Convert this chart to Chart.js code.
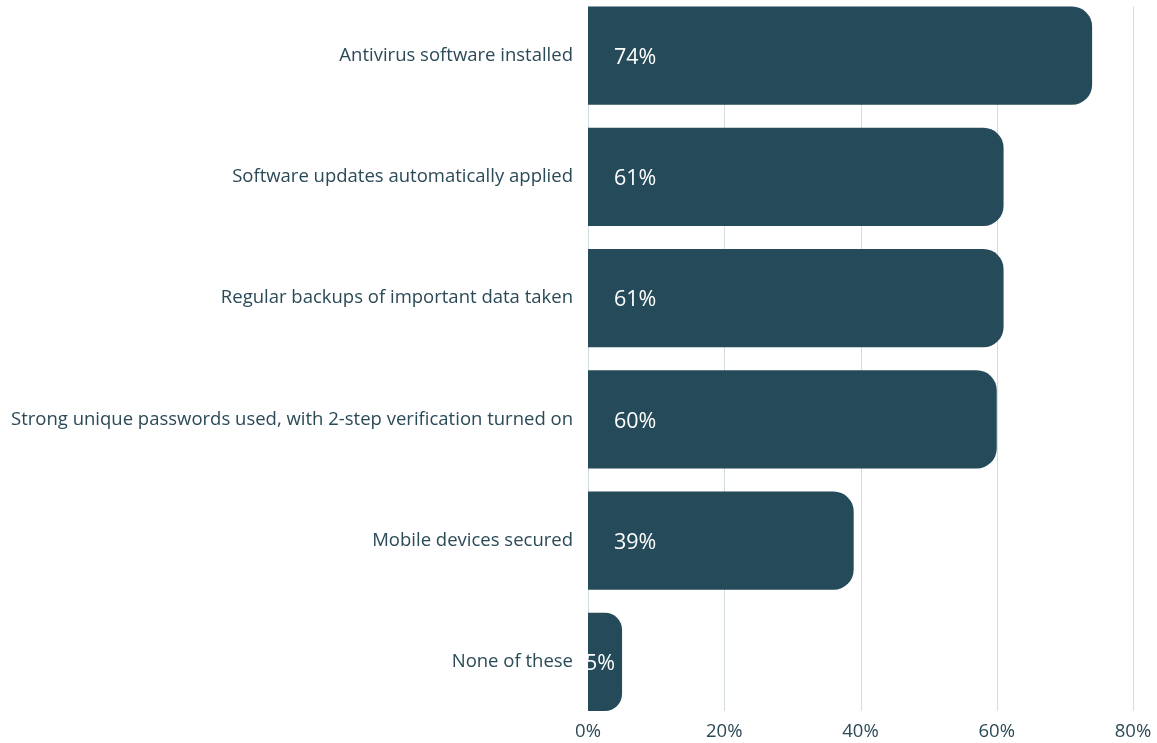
<!DOCTYPE html>
<html><head><meta charset="utf-8">
<script src="https://cdn.jsdelivr.net/npm/chart.js@4/dist/chart.umd.min.js"></script>
<style>html,body{margin:0;padding:0;background:#fff;overflow:hidden;width:1157px;height:743px;position:relative}#wrap{width:1157px;height:746px;position:absolute;left:0;top:-5px}</style>
</head><body><div id="wrap"><canvas id="c"></canvas></div>
<script>
const categories = [
  "Antivirus software installed",
  "Software updates automatically applied",
  "Regular backups of important data taken",
  "Strong unique passwords used, with 2-step verification turned on",
  "Mobile devices secured",
  "None of these"
];
const values = [74, 61, 61, 60, 39, 5];
const xTicks = [0, 20, 40, 60, 80];

const BAR = '#254b5a';
const TEXT = '#2b4a57';
const FONT = "'Open Sans', 'Noto Sans', sans-serif";

const gridPlugin = {
  id: 'gridPlugin',
  beforeDatasetsDraw(chart) {
    const ctx = chart.ctx, xs = chart.scales.x;
    const meta = chart.getDatasetMeta(0);
    const first = meta.data[0], last = meta.data[meta.data.length - 1];
    const top = first.y - first.height / 2, bottom = last.y + last.height / 2;
    ctx.save();
    ctx.strokeStyle = '#d3dce0';
    ctx.lineWidth = 1;
    xTicks.forEach(t => {
      const x = Math.round(xs.getPixelForValue(t)) + 0.5;
      ctx.beginPath(); ctx.moveTo(x, top); ctx.lineTo(x, bottom); ctx.stroke();
    });
    ctx.restore();
  }
};

const labelPlugin = {
  id: 'labelPlugin',
  afterDatasetsDraw(chart) {
    const ctx = chart.ctx;
    const meta = chart.getDatasetMeta(0);
    ctx.save();
    ctx.fillStyle = '#ffffff';
    ctx.font = "21.5px " + FONT;
    ctx.textBaseline = 'middle';
    meta.data.forEach((bar, i) => {
      const txt = values[i] + '%';
      const w = ctx.measureText(txt).width;
      let x = bar.base + 26;
      if (x + w > bar.x - 7) x = bar.x - 7 - w;
      ctx.fillText(txt, x, bar.y + 2);
    });
    ctx.restore();
  }
};

new Chart(document.getElementById('c'), {
  type: 'bar',
  data: {
    labels: categories,
    datasets: [{
      data: values,
      backgroundColor: BAR,
      borderWidth: 0,
      borderSkipped: 'start',
      borderRadius: {topLeft: 0, bottomLeft: 0, topRight: 20, bottomRight: 20},
      categoryPercentage: 1,
      barPercentage: 0.81
    }]
  },
  options: {
    indexAxis: 'y',
    responsive: true,
    maintainAspectRatio: false,
    animation: false,
    layout: {autoPadding: false, padding: {top: 0, right: 24, left: 0, bottom: 0}},
    plugins: {legend: {display: false}, tooltip: {enabled: false}},
    scales: {
      x: {
        min: 0, max: 80,
        grid: {display: false, drawTicks: false},
        border: {display: false},
        afterBuildTicks: s => { s.ticks = xTicks.map(v => ({value: v})); },
        ticks: {
          padding: 0,
          color: TEXT,
          font: {family: FONT, size: 18.5, lineHeight: 1},
          callback: v => v + '%'
        }
      },
      y: {
        grid: {display: false, drawTicks: false},
        border: {display: false},
        afterFit: s => { s.width = 588; s.paddingTop = 0; s.paddingBottom = 0; },
        ticks: {
          padding: 15,
          color: TEXT,
          font: {family: FONT, size: 18.5}
        }
      }
    }
  },
  plugins: [gridPlugin, labelPlugin]
});
</script>
</body></html>
